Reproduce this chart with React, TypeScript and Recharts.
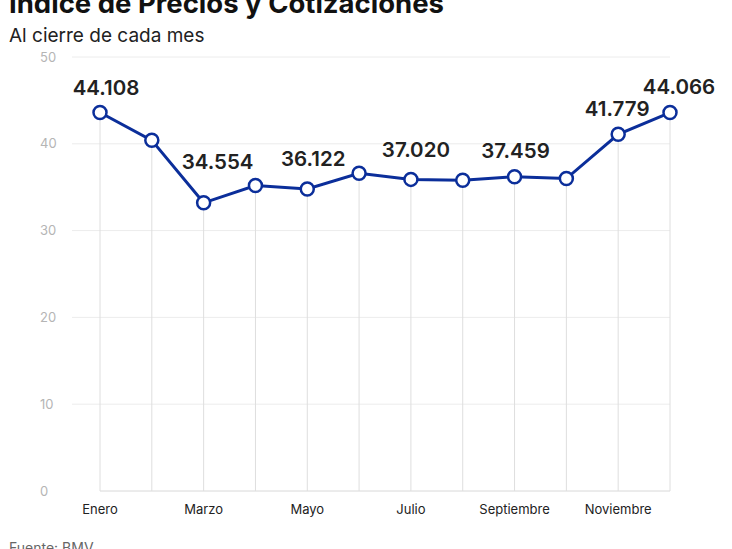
import React from 'react';
import { LineChart, Line, XAxis, YAxis, CartesianGrid, ReferenceLine } from 'recharts';

const months = ['Enero', 'Febrero', 'Marzo', 'Abril', 'Mayo', 'Junio', 'Julio', 'Agosto', 'Septiembre', 'Octubre', 'Noviembre', 'Diciembre'];
const values = [43.6, 40.4, 33.2, 35.2, 34.8, 36.6, 35.9, 35.8, 36.2, 36.0, 41.1, 43.6];
const valueLabels = ['44.108', '', '34.554', '', '36.122', '', '37.020', '', '37.459', '', '41.779', '44.066'];
const yTicks = [0, 10, 20, 30, 40, 50];
const gridValues = [10, 20, 30, 40, 50];

const title = 'Índice de Precios y Cotizaciones';
const subtitle = 'Al cierre de cada mes';
const source = 'Fuente: BMV';

const data = months.map((m, i) => ({ month: m, value: values[i], label: valueLabels[i] }));

const FONT = 'Inter, "Noto Sans", sans-serif';
const BLUE = '#0b2e9a';

// label placement nudges (layout only)
const labelNudge: Record<number, [number, number]> = {
  0: [6, 18],
  2: [14, 34],
  4: [6, 23],
  6: [5, 22],
  8: [1, 19],
  10: [-1, 18],
  11: [9, 19],
};

const ValueLabel = (props: any) => {
  const { x, y, index } = props;
  const text = valueLabels[index];
  if (!text) return null;
  const [dx, gap] = labelNudge[index] || [0, 18];
  return (
    <text x={x + dx} y={y - gap} textAnchor="middle" fontFamily={FONT} fontSize={20.5} fontWeight={600} fill="#222">
      {text}
    </text>
  );
};

const XTick = (props: any) => {
  const { x, y, payload } = props;
  return (
    <text x={x} y={y + 23} textAnchor="middle" fontFamily={FONT} fontSize={13} fill="#222">
      {payload.value}
    </text>
  );
};

const YTick = (props: any) => {
  const { x, y, payload } = props;
  return (
    <text x={x - 32} y={y + 4.5} textAnchor="start" fontFamily={FONT} fontSize={13} fill="#b5b5b5">
      {payload.value}
    </text>
  );
};

const Dot = (props: any) => {
  const { cx, cy } = props;
  if (cx == null || cy == null) return null;
  return <circle cx={cx} cy={cy} r={6.5} fill="#fff" stroke={BLUE} strokeWidth={2.5} />;
};

export default function App() {
  return (
    <div style={{ position: 'absolute', left: 0, top: 0, width: 732, height: 549, overflow: 'hidden', background: '#fff' }}>
      <LineChart
        width={732}
        height={549}
        data={data}
        margin={{ top: 57, right: 62, left: 0, bottom: 28 }}
      >
        <CartesianGrid vertical={false} horizontalValues={gridValues} stroke="#ececec" />
        <XAxis
          dataKey="month"
          axisLine={false}
          tickLine={false}
          tickSize={0}
          tickMargin={0}
          height={30}
          interval={1}
          padding={{ left: 28, right: 0 }}
          tick={<XTick />}
        />
        <YAxis
          domain={[0, 50]}
          ticks={yTicks}
          axisLine={false}
          tickLine={false}
          tickSize={0}
          tickMargin={0}
          width={72}
          tick={<YTick />}
        />
        <ReferenceLine
          segment={[{ x: months[0], y: 0 }, { x: months[months.length - 1], y: 0 }]}
          stroke="#d8d8d8"
          strokeWidth={1}
        />
        {data.map((d) => (
          <ReferenceLine
            key={d.month}
            segment={[{ x: d.month, y: 0 }, { x: d.month, y: d.value }]}
            stroke="#dedede"
            strokeWidth={1}
          />
        ))}
        <Line
          type="linear"
          dataKey="value"
          stroke={BLUE}
          strokeWidth={3}
          dot={<Dot />}
          activeDot={false}
          label={<ValueLabel />}
          isAnimationActive={false}
        />
      </LineChart>
      <svg width={732} height={549} style={{ position: 'absolute', left: 0, top: 0, pointerEvents: 'none' }}>
        <text x={9} y={13} fontFamily={FONT} fontSize={27.5} fontWeight={700} fill="#111">{title}</text>
        <text x={9} y={42} fontFamily={FONT} fontSize={19} fill="#222">{subtitle}</text>
        <text x={9} y={553} fontFamily={FONT} fontSize={14} fill="#666">{source}</text>
      </svg>
    </div>
  );
}
